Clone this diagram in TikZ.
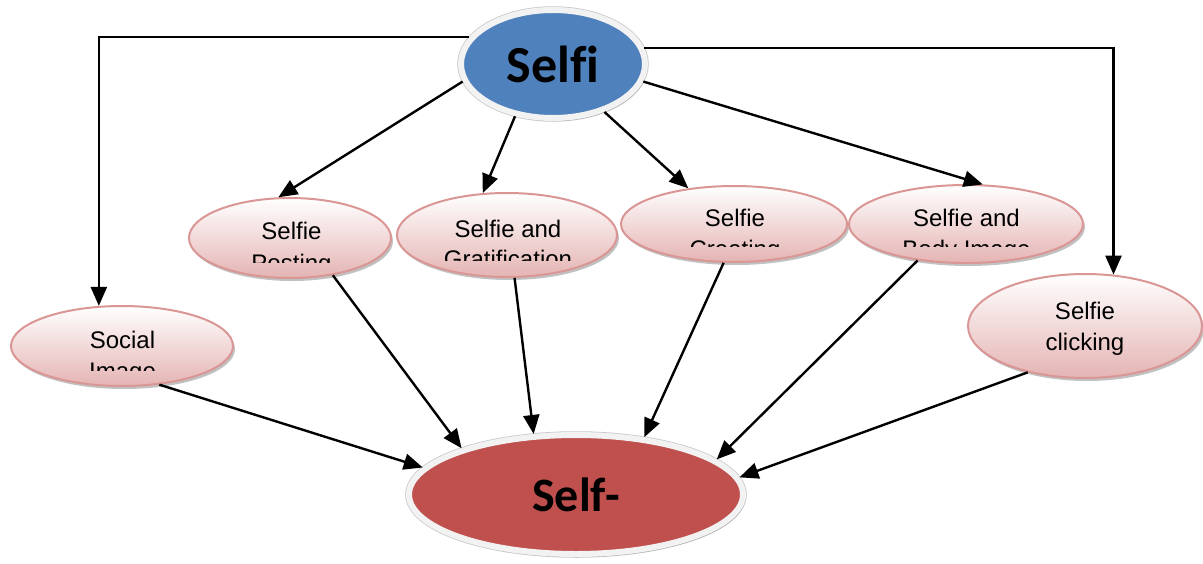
\documentclass[tikz,border=0pt]{standalone}
\usepackage{fontspec}
\setmainfont{Liberation Sans}
\newfontfamily\calib[Ligatures=NoCommon]{Carlito}
\usetikzlibrary{shapes.geometric,arrows.meta,shadows}
\definecolor{sblue}{HTML}{4F81BD}
\definecolor{sred}{HTML}{C0504D}
\definecolor{pinkb}{HTML}{D99694}
\definecolor{pinkf}{HTML}{E4B4B3}
\begin{document}
\begin{tikzpicture}[x=1pt,y=-1pt,
  pinknode/.style={ellipse, draw=pinkb, line width=2pt, top color=white, bottom color=pinkf,
    drop shadow={shadow xshift=2pt, shadow yshift=-3pt, opacity=0.35, fill=black!70}, inner sep=0pt},
  bignode/.style={ellipse, draw=black!5, line width=6pt, inner sep=0pt,
    preaction={draw=black!22, line width=7.5pt},
    drop shadow={shadow xshift=2pt, shadow yshift=-3pt, opacity=0.3, fill=black!70},
    font=\calib\bfseries},
  lbl/.style={font=\fontsize{24}{28}\selectfont, anchor=base, inner sep=0pt},
  arr/.style={-{Triangle[length=19pt,width=16pt]}, line width=2.4pt}]
\useasboundingbox (0,0) rectangle (1203,563);

% main nodes
\node[bignode, fill=sblue, minimum width=184pt, minimum height=108pt,
  font=\calib\bfseries\fontsize{52}{56}\selectfont] (selfi) at (553,64) {Self\kern0pt i};
\node[bignode, fill=sred, minimum width=334pt, minimum height=119pt,
  font=\calib\bfseries\fontsize{48}{52}\selectfont] (self) at (576,494.5) {Self-};

% pink nodes
\node[pinknode, minimum width=202pt, minimum height=80pt] (post) at (290,238) {};
\node[pinknode, minimum width=220pt, minimum height=84pt] (grat) at (507,235) {};
\node[pinknode, minimum width=226pt, minimum height=76pt] (crea) at (734,224) {};
\node[pinknode, minimum width=234pt, minimum height=78pt] (body) at (966,224) {};
\node[pinknode, minimum width=222pt, minimum height=80pt] (social) at (122,346) {};
\node[pinknode, minimum width=234pt, minimum height=104pt] (click) at (1085,326) {};

% texts
\node[lbl] (postA) at (291.5,239) {Selfie};
\begin{scope}\clip (180,240) rectangle (400,262);
\node[lbl] (postB) at (291.5,271) {Posting};\end{scope}
\node[lbl] (gratA) at (508,237) {Selfie and};
\begin{scope}\clip (400,240) rectangle (620,260.5);
\node[lbl] (gratB) at (508,267.5) {Gratification};\end{scope}
\node[lbl] (creaA) at (735,226) {Selfie};
\begin{scope}\clip (620,230) rectangle (850,246.5);
\node[lbl] (creaB) at (735,257.5) {Creating};\end{scope}
\node[lbl] (bodyA) at (966.5,226) {Selfie and};
\begin{scope}\clip (850,230) rectangle (1085,246.5);
\node[lbl] (bodyB) at (966.5,257.5) {Body Image};\end{scope}
\node[lbl] (socA) at (122.5,348) {Social};
\begin{scope}\clip (10,352) rectangle (235,370);
\node[lbl] (socB) at (122.5,379.5) {Image};\end{scope}
\node[lbl] (clkA) at (1085,319) {Selfie};
\node[lbl] (clkB) at (1085,350.5) {clicking};

% connectors from Selfi
\draw[arr] (selfi.162) -| (social.120);
\draw[arr] (selfi.10) -| (click.61);
\draw[arr] (selfi.191) -- (post.106);
\draw[arr] (selfi.234) -- (grat.120);
\draw[arr] (selfi.317) -- (crea.142);
\draw[arr] (selfi.349) -- (body.67);

% connectors to Self-
\draw[arr] (social.314.5) -- (self.170.7);
\draw[arr] (post.319) -- (self.158.5);
\draw[arr] (grat.280.5) -- (self.125.6);
\draw[arr] (crea.255.6) -- (self.40.9);
\draw[arr] (body.217.3) -- (self.14.3);
\draw[arr] (click.219.1) -- (self.6.05);
\end{tikzpicture}
\end{document}
